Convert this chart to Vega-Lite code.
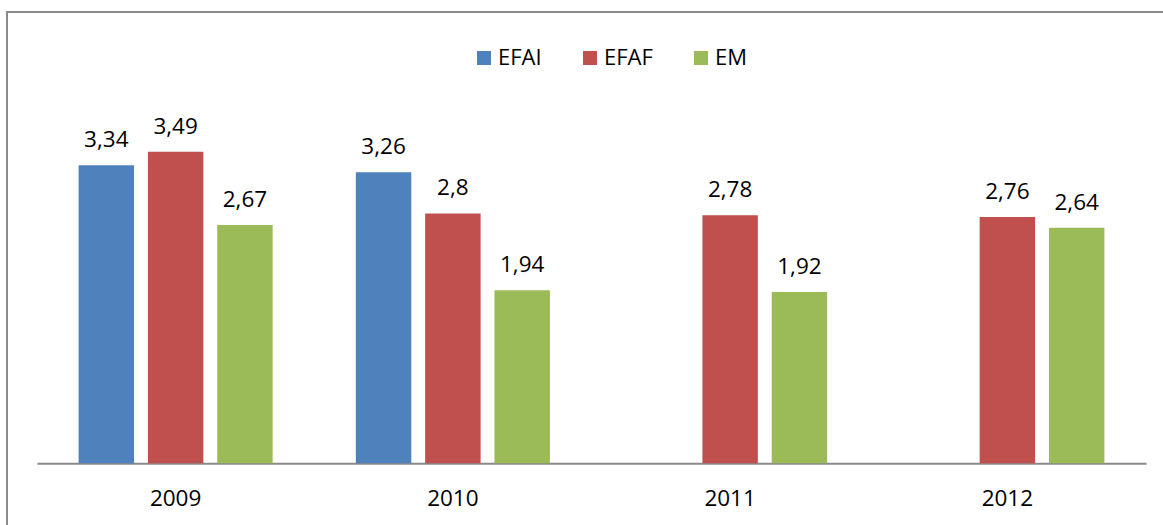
{
  "$schema": "https://vega.github.io/schema/vega-lite/v6.json",
  "autosize": {"type": "none"},
  "padding": {"left": 7, "top": 12, "right": -3, "bottom": -3},
  "width": 1159,
  "height": 516,
  "background": "white",
  "config": {
    "view": {"stroke": "#8a8a8a", "strokeWidth": 2},
    "font": "Open Sans",
    "locale": {"number": {"decimal": ",", "thousands": ".", "grouping": [3], "currency": ["", " €"]}}
  },
  "data": {
    "values": [
      {"year": "2009", "series": "EFAI", "value": 3.34},
      {"year": "2009", "series": "EFAF", "value": 3.49},
      {"year": "2009", "series": "EM", "value": 2.67},
      {"year": "2010", "series": "EFAI", "value": 3.26},
      {"year": "2010", "series": "EFAF", "value": 2.8},
      {"year": "2010", "series": "EM", "value": 1.94},
      {"year": "2011", "series": "EFAF", "value": 2.78},
      {"year": "2011", "series": "EM", "value": 1.92},
      {"year": "2012", "series": "EFAF", "value": 2.76},
      {"year": "2012", "series": "EM", "value": 2.64}
    ]
  },
  "encoding": {
    "x": {
      "field": "year",
      "type": "nominal",
      "scale": {"range": [30, 1139], "paddingInner": 0, "paddingOuter": 0},
      "axis": {
        "title": null,
        "orient": "bottom",
        "offset": -64.7,
        "ticks": false,
        "tickSize": 0,
        "domainColor": "#8a8a8a",
        "domainWidth": 2,
        "labelAngle": 0,
        "labelFont": "Open Sans",
        "labelFontSize": 22.5,
        "labelColor": "#000000",
        "labelBaseline": "alphabetic",
        "labelPadding": 41.7
      }
    },
    "xOffset": {
      "field": "series",
      "type": "nominal",
      "scale": {"domain": ["EFAI", "EFAF", "EM"], "paddingInner": 0.2, "paddingOuter": 0.6}
    },
    "y": {
      "field": "value",
      "type": "quantitative",
      "scale": {"domain": [0, 4], "range": [451.3, 94.3], "nice": false, "zero": true},
      "axis": null
    }
  },
  "layer": [
    {
      "mark": {"type": "bar"},
      "encoding": {
        "color": {
          "field": "series",
          "type": "nominal",
          "scale": {"domain": ["EFAI", "EFAF", "EM"], "range": ["#4F81BD", "#C0504D", "#9BBB59"]},
          "legend": {
            "title": null,
            "orient": "none",
            "direction": "horizontal",
            "legendX": 466,
            "legendY": 35,
            "padding": 0,
            "symbolType": "square",
            "symbolSize": 196,
            "symbolStrokeWidth": 0,
            "symbolOpacity": 1,
            "labelFont": "Open Sans",
            "labelFontSize": 22,
            "labelColor": "#000000",
            "labelOffset": 3,
            "columnPadding": 37
          }
        }
      }
    },
    {
      "mark": {"type": "text", "baseline": "alphabetic", "align": "center", "dy": -18, "font": "Open Sans", "fontSize": 22.5, "color": "#000000"},
      "encoding": {
        "text": {"field": "value", "type": "quantitative", "format": "~r"}
      }
    }
  ]
}
